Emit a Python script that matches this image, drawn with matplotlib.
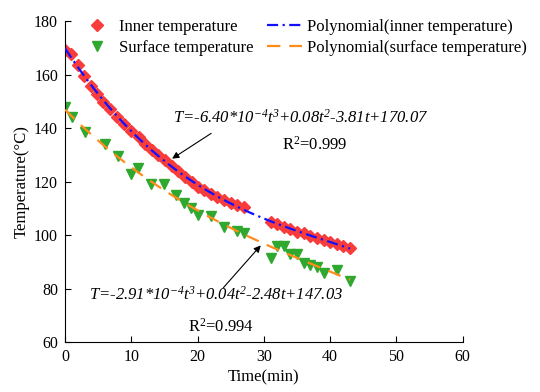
import numpy as np
import matplotlib
matplotlib.use("Agg")
import matplotlib.pyplot as plt

plt.rcParams['font.family'] = ['Liberation Serif', 'DejaVu Serif']
plt.rcParams['mathtext.fontset'] = 'custom'
plt.rcParams['mathtext.rm'] = 'Liberation Serif'
plt.rcParams['mathtext.it'] = 'Liberation Serif:italic'

# inner temperature readings
t_inner = [0, 0.9, 2, 2.8, 3.9, 4.8, 5.8, 6.8, 7.9, 8.9, 9.9, 11.1, 12.1, 13.1,
           14.1, 15.1, 16.1, 17.1, 18.1, 19.1, 20.1, 21, 22, 23, 24, 25, 26, 27,
           31, 32, 33, 34, 35, 36, 37, 38, 39, 40, 41, 42, 43]
T_inner = [169.2, 167.8, 163.6, 159.4, 155.7, 152.6, 149.8, 147.0, 144.2, 141.7,
           139.0, 136.6, 134.1, 131.8, 130.0, 128.0, 125.8, 124.0, 121.8, 119.9,
           118.1, 116.8, 115.5, 114.2, 113.1, 112.1, 111.2, 110.4,
           105.0, 104.0, 103.1, 102.2, 101.2, 100.6, 99.7, 98.9, 98.1, 97.5,
           96.8, 95.9, 95.0]

# surface temperature readings
t_surf = [0, 1, 3, 6, 8, 10, 11, 13, 15, 16.7, 18, 19, 20, 22, 24, 26, 27,
          31, 32, 33, 34, 35, 36, 37, 38, 39, 41, 43]
T_surf = [147.8, 144.0, 138.6, 134.0, 129.6, 123.0, 125.0, 119.0, 119.0, 115.0,
          112.1, 110.0, 107.5, 107.1, 103.1, 101.6, 100.9,
          91.5, 96.0, 96.0, 93.0, 93.0, 89.7, 88.8, 87.9, 85.9, 86.9, 82.8]

sup = lambda s: r'$^{\mathdefault{' + s + '}}$'
eq_inner = 'T=-6.40*10' + sup('-4') + 't' + sup('3') + '+0.08t' + sup('2') + '-3.81t+170.07'
eq_surf = 'T=-2.91*10' + sup('-4') + 't' + sup('3') + '+0.04t' + sup('2') + '-2.48t+147.03'
r2_inner = r'R$^{2}$=0.999'
r2_surf = r'R$^{2}$=0.994'

fig = plt.figure(figsize=(5.4, 3.92), dpi=100)
ax = fig.add_axes([0.1204, 0.1276, 0.7366, 0.8184])

tt = np.linspace(0, 43, 200)
p_in = np.polyfit(t_inner, T_inner, 3)
p_su = np.polyfit(t_surf, T_surf, 3)

h1, = ax.plot(t_inner, T_inner, 'D', color='#f83c3c', markersize=6, linestyle='none',
              label='Inner temperature', zorder=2)
h2, = ax.plot(t_surf, T_surf, 'v', color='#2ea82e', markersize=7.5, linestyle='none',
              label='Surface temperature', zorder=2)
h3, = ax.plot(tt, np.polyval(p_in, tt), color='#1010ff', linestyle=(0, (5, 2, 1, 2)),
              lw=1.6, label='Polynomial(inner temperature)', zorder=3)
h4, = ax.plot(tt, np.polyval(p_su, tt), color='#ff8c1a', linestyle=(0, (6, 4)),
              lw=1.6, label='Polynomial(surface temperature)', zorder=3)

ax.legend(handles=[h1, h2, h3, h4], ncol=2, frameon=False, loc='upper left',
          bbox_to_anchor=(-0.002, 1.055), fontsize=12, handlelength=2.1,
          columnspacing=0.8, handletextpad=0.3, labelspacing=0.3)

ax.annotate('', xy=(15.8, 128.0), xytext=(22.4, 138.6),
            arrowprops=dict(arrowstyle='-|>', color='black', lw=0.8))
ax.annotate('', xy=(29.8, 96.9), xytext=(23.6, 79.5),
            arrowprops=dict(arrowstyle='-|>', color='black', lw=0.8))
ax.text(16.3, 143.7, eq_inner, fontsize=12, style='italic', va='center')
ax.text(32.7, 133.6, r2_inner, fontsize=12, va='center')
ax.text(3.6, 77.6, eq_surf, fontsize=12, style='italic', va='center')
ax.text(18.6, 65.6, r2_surf, fontsize=12, va='center')

ax.set_xlim(0, 60)
ax.set_ylim(60, 180)
ax.set_xticks(range(0, 61, 10))
ax.set_yticks(range(60, 181, 20))
ax.spines['top'].set_visible(False)
ax.spines['right'].set_visible(False)
ax.tick_params(direction='in', length=4, labelsize=11.5, pad=5)
ax.set_xlabel('Time(min)', fontsize=12, labelpad=3)
ax.set_ylabel('Temperature(\u00b0C)', fontsize=12, labelpad=3)

fig.savefig('out.png', dpi=100)
